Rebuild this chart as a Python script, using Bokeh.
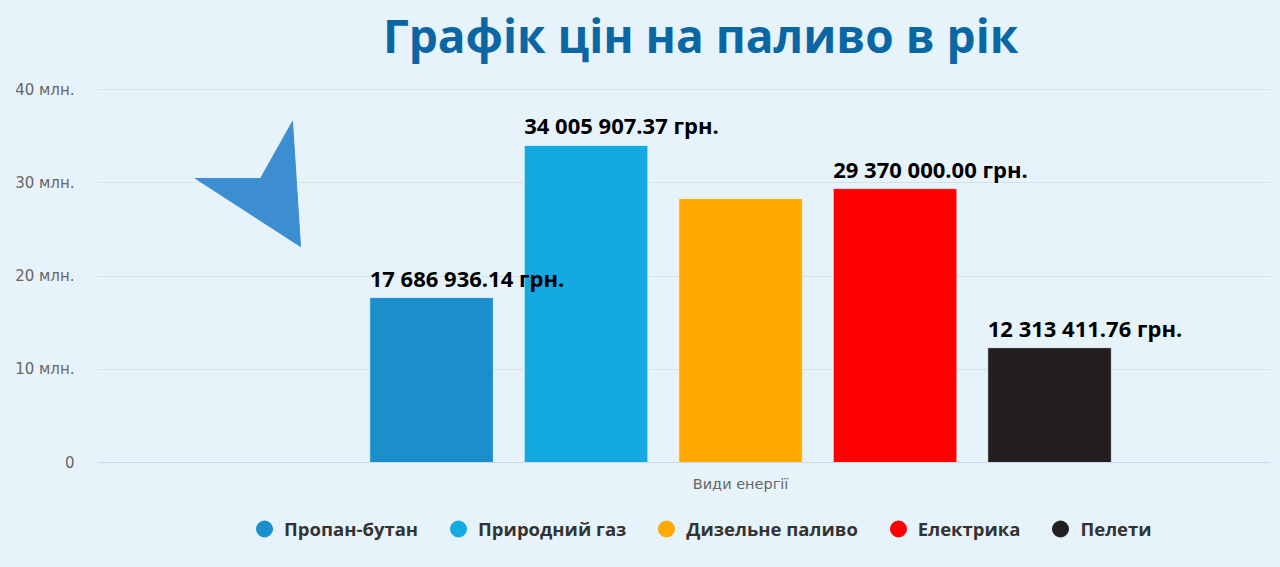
from bokeh.plotting import figure
from bokeh.models import Range1d, FixedTicker, Legend, LegendItem, ColumnDataSource, Span, Label
from bokeh.core.properties import value
from bokeh.embed import file_html
from bokeh.resources import INLINE

# ---- data ----
categories = ["Пропан-бутан", "Природний газ", "Дизельне паливо", "Електрика", "Пелети"]
costs = [17686936.14, 34005907.37, 28300000.00, 29370000.00, 12313411.76]
show_label = [True, True, False, True, True]
bar_colors = ["#1a8fcc", "#14a9e0", "#ffa800", "#ff0000", "#231f20"]
y_ticks = [0, 10000000, 20000000, 30000000, 40000000]
y_tick_labels = ["0", "10 млн.", "20 млн.", "30 млн.", "40 млн."]
x_axis_title = "Види енергії"
chart_title = "Графік цін на паливо в рік"
currency = "грн."

# decorative arrow (data units)
arrow_x = [-1.528, -1.107, -0.900, -0.848]
arrow_y = [30460000, 30460000, 36570000, 23160000]

BG = "#e7f3fb"
NAN = float("nan")

W, H = 1280, 567
LEFT, RIGHT = 97, 10
Y_MAX = 40000000                 # top gridline
PX_PER_Y = 9.325 / 1e6           # pixels per unit on y
PX_PER_X = 154.5                 # pixels per category step
y_lo = -105 / PX_PER_Y           # room below the baseline for axis title + legend
y_hi = Y_MAX + 89 / PX_PER_Y     # room above for the title

p = figure(width=W, height=H,
           x_range=Range1d(-2.162, 5.43), y_range=Range1d(y_lo, y_hi),
           x_axis_location=None,
           output_backend="svg", toolbar_location=None,
           min_border_left=LEFT, min_border_right=RIGHT,
           min_border_top=0, min_border_bottom=0)
p.background_fill_color = BG
p.border_fill_color = BG
p.outline_line_color = None

# grid
p.xgrid.visible = False
p.ygrid.ticker = FixedTicker(ticks=y_ticks)
p.ygrid.grid_line_color = "#d8e1e8"

# x axis baseline
p.add_layout(Span(location=0, dimension="width", line_color="#ccd6eb", line_width=1))

# bars
xs = list(range(len(categories)))
src = ColumnDataSource(dict(x=xs, top=costs, color=bar_colors))
p.vbar(x="x", top="top", bottom=0, width=0.8, fill_color="color", line_color="white",
       line_width=1, line_alpha=0.7, source=src)

# value labels
lab_x = [i - 0.4 for i, s in zip(xs, show_label) if s]
lab_y = [c for c, s in zip(costs, show_label) if s]
lab_t = [f"{c:,.2f}".replace(",", " ") + " " + currency for c, s in zip(costs, show_label) if s]
p.text(x=lab_x, y=lab_y, text=lab_t, text_font=value("Open Sans"),
       text_font_style="bold", text_font_size="22px", text_color="#000000",
       text_align="left", text_baseline="bottom", y_offset=-5)

# x axis title under the middle category
p.text(x=[xs[len(xs) // 2]], y=[0], text=[x_axis_title], text_font=value("DejaVu Sans"),
       text_font_size="14.5px", text_color="#666666",
       text_align="center", text_baseline="top", y_offset=13)

# arrow decoration
p.patch(arrow_x, arrow_y, fill_color="#3d8ed0", line_color="#3d8ed0")

# title (centred slightly right of the middle category, above the top gridline)
title_x = xs[len(xs) // 2] - 40 / PX_PER_X
title_y = Y_MAX + 55 / PX_PER_Y
p.add_layout(Label(x=title_x, y=title_y, text=chart_title,
                   text_font="Open Sans", text_font_style="bold",
                   text_font_size="46px", text_color="#0b67a3",
                   text_align="center", text_baseline="alphabetic"))

# y axis
p.yaxis.ticker = FixedTicker(ticks=y_ticks)
p.yaxis.major_label_overrides = dict(zip(y_ticks, y_tick_labels))
p.yaxis.axis_line_color = None
p.yaxis.major_tick_line_color = None
p.yaxis.minor_tick_line_color = None
p.yaxis.major_label_standoff = 17
p.yaxis.major_label_text_font = "DejaVu Sans"
p.yaxis.major_label_text_font_size = "15px"
p.yaxis.major_label_text_color = "#666666"

# legend with circular markers
items = []
for cat, col in zip(categories, bar_colors):
    r = p.scatter(x=[NAN], y=[NAN], marker="circle", size=16, fill_color=col, line_color=col)
    items.append(LegendItem(label=cat, renderers=[r]))
legend = Legend(items=items, orientation="horizontal", location=(147, 17),
                label_text_font="Open Sans", label_text_font_style="bold",
                label_text_font_size="18.5px", label_text_color="#333333",
                glyph_width=40, glyph_height=43, label_standoff=0, spacing=20,
                border_line_color=None, background_fill_alpha=0,
                padding=0, margin=0)
p.add_layout(legend, "center")

html = file_html(p, INLINE)
html = html.replace("</head>", "<style>body{background:%s;}</style></head>" % BG, 1)
open("out.html", "w").write(html)
